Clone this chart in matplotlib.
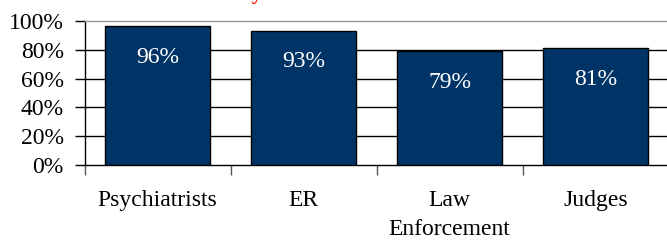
import matplotlib
matplotlib.use("Agg")
import matplotlib.pyplot as plt
import numpy as np

categories = ["Psychiatrists", "ER", "Law\nEnforcement", "Judges"]
values = [96, 93, 79, 81]
value_labels = ["96%", "93%", "79%", "81%"]
yticks = [0, 20, 40, 60, 80, 100]
ytick_labels = ["0%", "20%", "40%", "60%", "80%", "100%"]
title = "Creates a Cycle of Crises for Serious Needs"

plt.rcParams['font.family'] = ['Liberation Serif', 'DejaVu Serif']

fig = plt.figure(figsize=(6.67, 2.41), dpi=100)
ax = fig.add_axes([84.7 / 667, 1 - 165.3 / 241, 584 / 667, 144.6 / 241])

x = np.arange(len(categories))
ax.bar(x, values, width=0.72, color='#003366', edgecolor='black', linewidth=1.0, zorder=3)
for xi, v, lab in zip(x, values, value_labels):
    ax.text(xi, v - 21.4, lab, ha='center', va='center', color='white', fontsize=17, zorder=4)

ax.set_xlim(-0.5, len(categories) - 0.5)
ax.set_ylim(0, 100)
for yv in yticks[1:-1]:
    ax.axhline(yv, color='black', linewidth=1.0, zorder=1)

ax.set_yticks(yticks)
ax.set_yticklabels(ytick_labels, fontsize=17)
ax.tick_params(axis='y', direction='out', length=7, width=1, pad=8, colors='black')

ax.set_xticks(x)
ax.set_xticklabels(categories, fontsize=17, linespacing=1.5)
ax.set_xticks(np.arange(-0.5, len(categories) + 0.5, 1), minor=True)
ax.tick_params(axis='x', which='major', length=0, pad=18)
ax.tick_params(axis='x', which='minor', direction='out', length=7, width=1, color='#555555')

ax.spines['left'].set_color('black')
ax.spines['bottom'].set_color('black')
ax.spines['top'].set_color('#999999')
ax.spines['right'].set_color('#999999')
for s in ax.spines.values():
    s.set_linewidth(1.0)

fig.text(340 / 667, 1 + 1.0 / 241, title, ha='center', va='baseline', color='red',
         fontsize=15, fontweight='bold')

fig.savefig("out.png", dpi=100)
